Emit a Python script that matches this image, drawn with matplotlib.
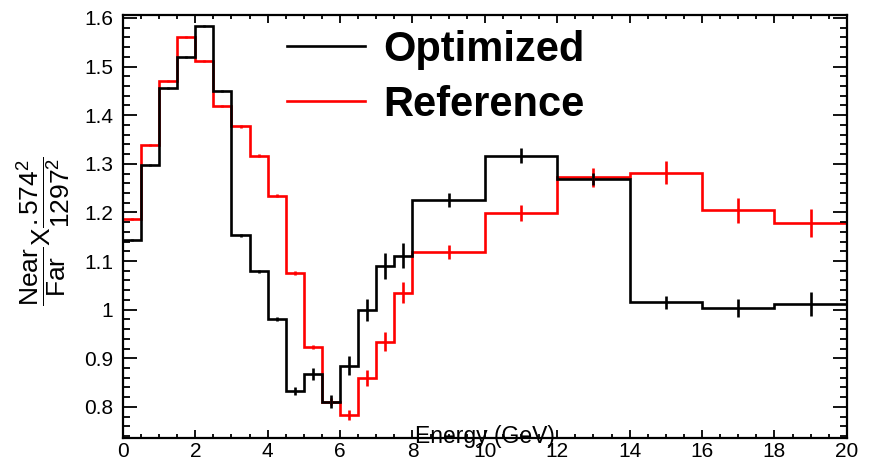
import matplotlib
matplotlib.use("Agg")
import matplotlib.pyplot as plt
from matplotlib.lines import Line2D
from matplotlib.ticker import MultipleLocator
import numpy as np


# bin edges (GeV): 0.5 GeV bins up to 8, then 2 GeV bins
EDGES = [0, 0.5, 1, 1.5, 2, 2.5, 3, 3.5, 4, 4.5, 5, 5.5, 6, 6.5, 7, 7.5, 8,
         10, 12, 14, 16, 18, 20]

OPTIMIZED = [1.143, 1.298, 1.455, 1.520, 1.583, 1.450, 1.153, 1.079, 0.980,
             0.833, 0.867, 0.811, 0.885, 0.999, 1.090, 1.111,
             1.226, 1.317, 1.269, 1.015, 1.003, 1.012]
OPTIMIZED_ERR = [0.002, 0.002, 0.002, 0.002, 0.002, 0.002, 0.003, 0.003, 0.004,
                 0.008, 0.012, 0.014, 0.020, 0.023, 0.026, 0.026,
                 0.014, 0.015, 0.013, 0.014, 0.018, 0.025]

REFERENCE = [1.187, 1.339, 1.471, 1.561, 1.512, 1.419, 1.377, 1.317, 1.234,
             1.075, 0.923, 0.811, 0.783, 0.859, 0.934, 1.035,
             1.119, 1.199, 1.272, 1.282, 1.204, 1.178]
REFERENCE_ERR = [0.002, 0.002, 0.002, 0.002, 0.002, 0.002, 0.003, 0.003, 0.003,
                 0.004, 0.005, 0.008, 0.010, 0.016, 0.019, 0.022,
                 0.014, 0.017, 0.020, 0.024, 0.026, 0.029]

SERIES = [
    ("Reference", REFERENCE, REFERENCE_ERR, "#ff0000"),
    ("Optimized", OPTIMIZED, OPTIMIZED_ERR, "#000000"),
]

plt.rcParams["font.family"] = ["Liberation Sans", "DejaVu Sans"]
plt.rcParams["mathtext.fontset"] = "custom"
plt.rcParams["mathtext.rm"] = "Liberation Sans"
plt.rcParams["mathtext.it"] = "Liberation Sans:italic"
plt.rcParams["mathtext.bf"] = "Liberation Sans:bold"


def draw_hist(ax, values, errors, color):
    edges = np.array(EDGES)
    centers = 0.5 * (edges[:-1] + edges[1:])
    ax.stairs(values, edges, baseline=None, color=color, lw=1.9)
    ax.vlines(centers, np.array(values) - np.array(errors),
              np.array(values) + np.array(errors), color=color, lw=1.9)


def main():
    fig = plt.figure(figsize=(8.84, 4.62), dpi=100)
    ax = fig.add_axes([0.139, 0.052, 0.819, 0.9155])

    for label, values, errors, color in SERIES:
        draw_hist(ax, values, errors, color)

    ax.set_xlim(0, 20)
    ax.set_ylim(0.736, 1.606)

    ax.xaxis.set_major_locator(MultipleLocator(2))
    ax.xaxis.set_minor_locator(MultipleLocator(0.5))
    ax.yaxis.set_major_locator(MultipleLocator(0.1))
    ax.yaxis.set_minor_locator(MultipleLocator(0.02))
    ax.yaxis.set_major_formatter(plt.FuncFormatter(lambda v, p: f"{v:g}"))

    ax.tick_params(axis="x", which="major", direction="in", top=True,
                   length=5.8, width=1.3, labelsize=15, pad=3)
    ax.tick_params(axis="x", which="minor", direction="in", top=True,
                   length=2.9, width=1.3)
    ax.tick_params(axis="y", which="major", direction="in", right=True,
                   length=10, width=1.3, labelsize=15, pad=7)
    ax.tick_params(axis="y", which="minor", direction="in", right=True,
                   length=5, width=1.3)
    for spine in ax.spines.values():
        spine.set_linewidth(1.6)

    ax.set_xlabel("Energy (GeV)", fontsize=16.5)
    ax.xaxis.set_label_coords(0.5, 0.03)
    ax.set_ylabel(r"$\dfrac{\mathrm{Near}}{\mathrm{Far}}\mathrm{X}\dfrac{.574^2}{1297^2}$",
                  fontsize=19)
    ax.yaxis.set_label_coords(-0.07, 0.49)

    handles = [Line2D([], [], color="#000000", lw=1.9),
               Line2D([], [], color="#ff0000", lw=1.9)]
    ax.legend(handles, ["Optimized", "Reference"], loc="upper left",
              bbox_to_anchor=(0.3247, 0.935), bbox_transform=fig.transFigure,
              frameon=False, borderpad=0, borderaxespad=0,
              prop={"weight": "bold", "size": 30},
              handlelength=1.87, handletextpad=0.43, labelspacing=0.36)

    fig.savefig("out.png", dpi=100)


if __name__ == "__main__":
    main()
